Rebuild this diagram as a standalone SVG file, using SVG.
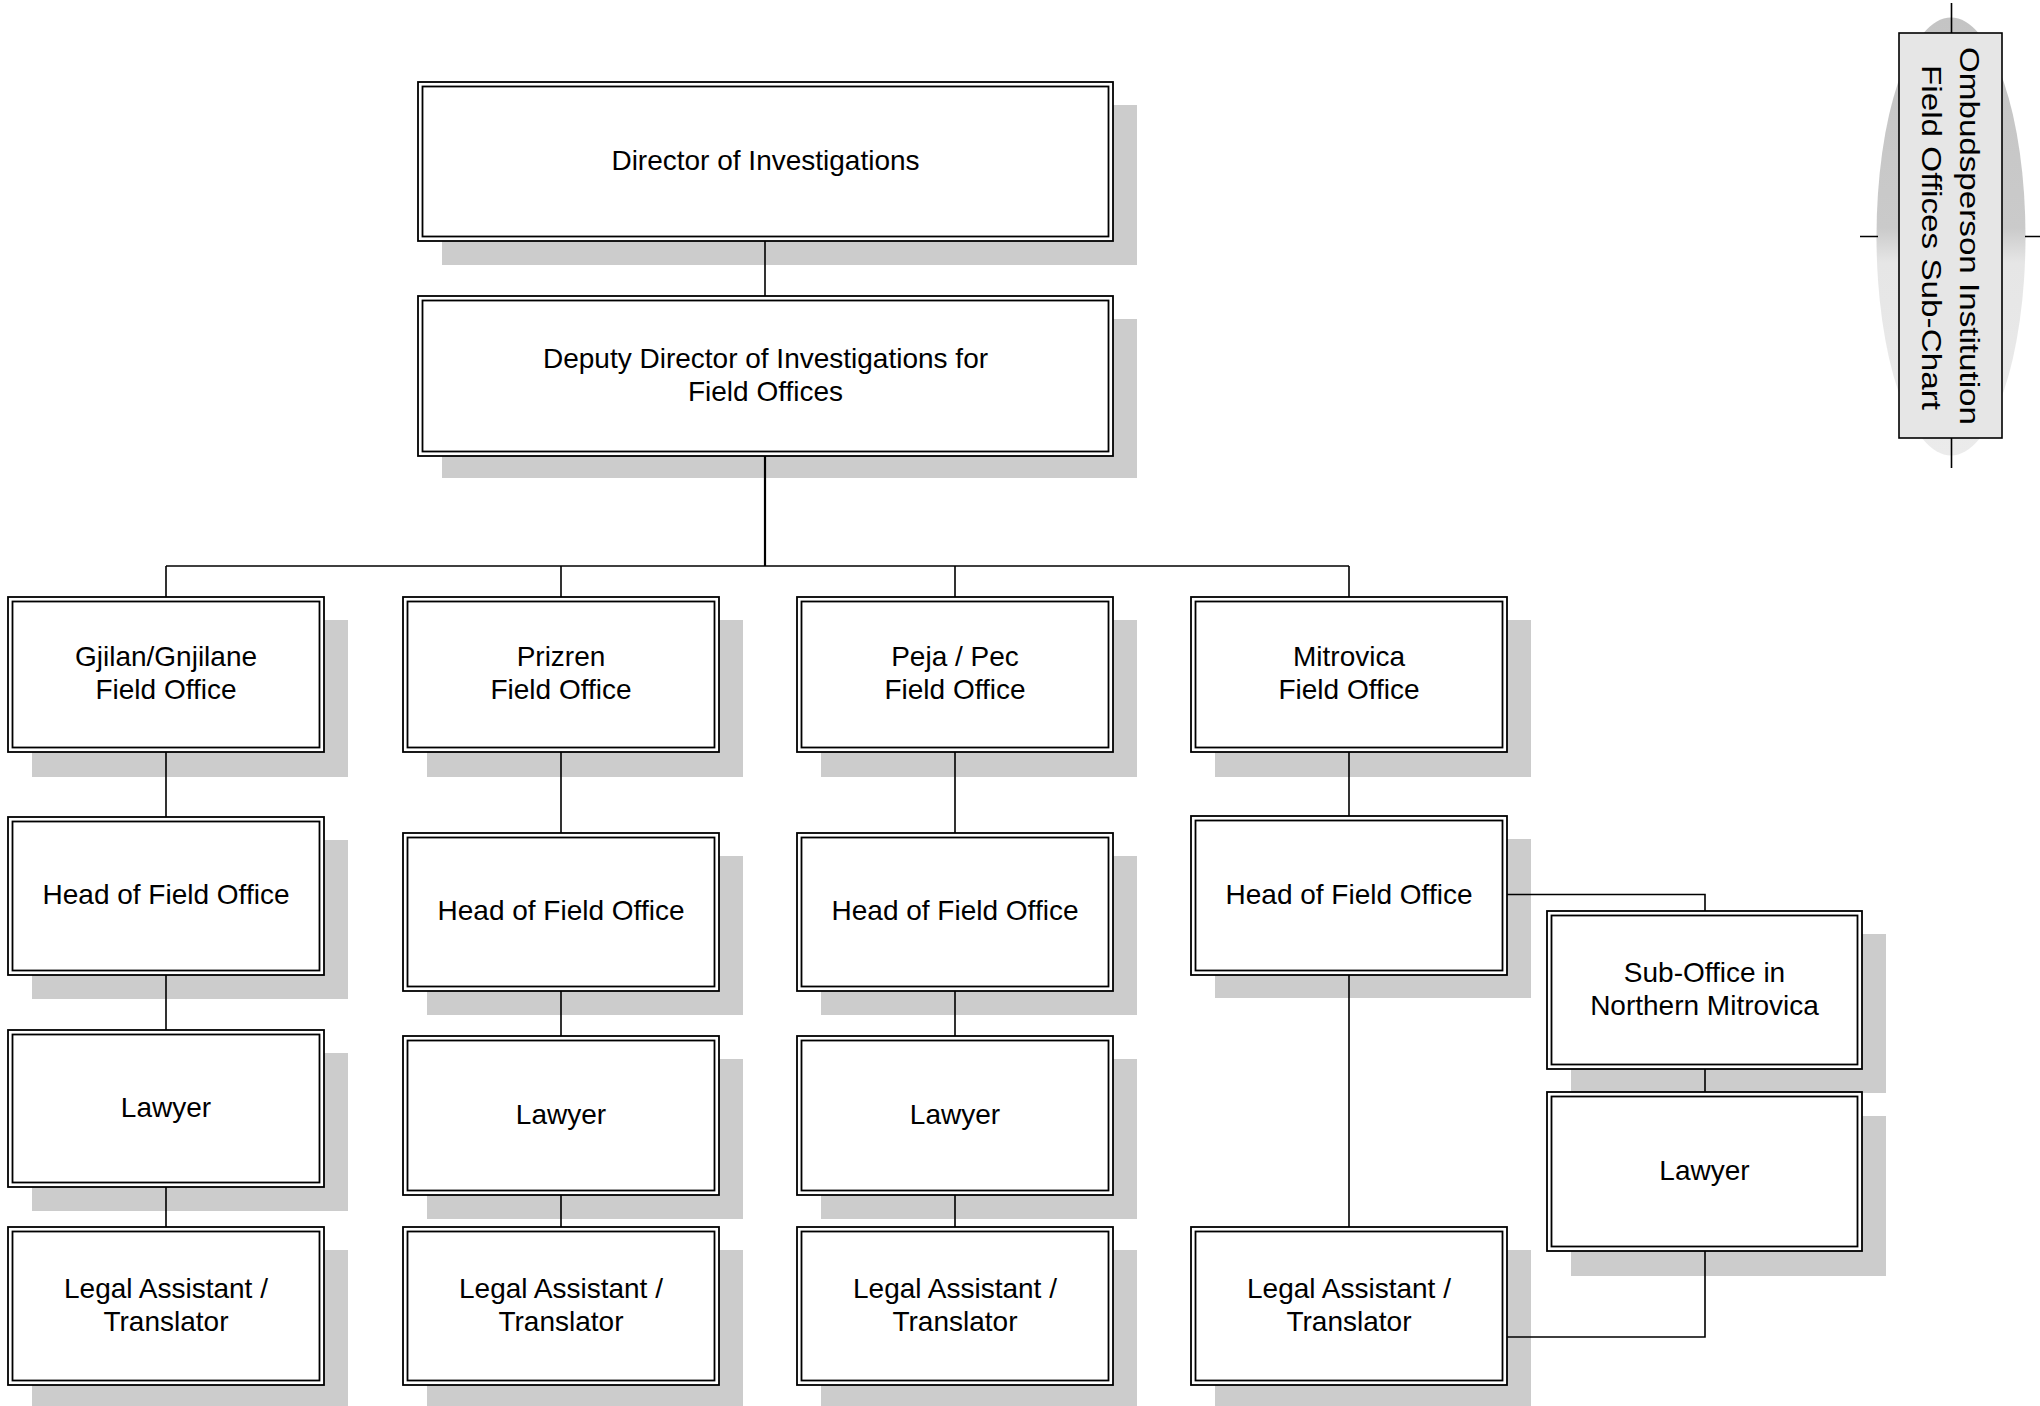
<svg xmlns="http://www.w3.org/2000/svg" width="2040" height="1406" viewBox="0 0 2040 1406">
<style>
.sh{fill:#cccccc}
.ob{fill:#ffffff;stroke:#000;stroke-width:1.8}
.ib{fill:none;stroke:#000;stroke-width:1.8}
.t{font-family:"Liberation Sans",Arial,sans-serif;font-size:28px;text-anchor:middle;fill:#000}
.c{fill:none;stroke:#000;stroke-width:1.6}
</style>
<defs>
<linearGradient id="lens" x1="0" y1="0" x2="0" y2="1">
<stop offset="0" stop-color="#c4c4c4"/>
<stop offset="0.48" stop-color="#cacaca"/>
<stop offset="0.56" stop-color="#e6e6e6"/>
<stop offset="1" stop-color="#ebebeb"/>
</linearGradient>
</defs>
<rect width="2040" height="1406" fill="#ffffff"/>

<g id="title">
<ellipse cx="1951" cy="236.5" rx="74.5" ry="219" fill="url(#lens)"/>
<path class="c" d="M1951.5,3V33M1951.5,438V468M1860,236.5H1878M2025,236.5H2040"/>
<rect x="1899" y="33" width="103" height="405" fill="#e6e6e6" stroke="#000" stroke-width="1.6"/>
<text class="t" font-size="27" transform="translate(1960,236) rotate(90)" textLength="378" lengthAdjust="spacingAndGlyphs" style="font-size:27px">Ombudsperson Institution</text>
<text class="t" transform="translate(1922,237.5) rotate(90)" textLength="345" lengthAdjust="spacingAndGlyphs" style="font-size:27px">Field Offices Sub-Chart</text>
</g>

<g id="director">
<rect class="sh" x="442" y="105" width="695" height="160"/>
<rect class="ob" x="418" y="82" width="695" height="159"/>
<rect class="ib" x="422.5" y="86.5" width="686" height="150"/>
<text class="t" x="765.5" y="169.5">Director of Investigations</text>
</g>

<g id="deputy">
<rect class="sh" x="442" y="319" width="695" height="159"/>
<rect class="ob" x="418" y="296" width="695" height="160"/>
<rect class="ib" x="422.5" y="300.5" width="686" height="151"/>
<text class="t" x="765.5" y="367.5">Deputy Director of Investigations for</text>
<text class="t" x="765.5" y="400.5">Field Offices</text>
</g>

<g id="fo-gjilan">
<rect class="sh" x="32" y="620" width="316" height="157"/>
<rect class="ob" x="8" y="597" width="316" height="155"/>
<rect class="ib" x="12.5" y="601.5" width="307" height="146"/>
<text class="t" x="166" y="666">Gjilan/Gnjilane</text>
<text class="t" x="166" y="699">Field Office</text>
</g>
<g id="fo-prizren">
<rect class="sh" x="427" y="620" width="316" height="157"/>
<rect class="ob" x="403" y="597" width="316" height="155"/>
<rect class="ib" x="407.5" y="601.5" width="307" height="146"/>
<text class="t" x="561" y="666">Prizren</text>
<text class="t" x="561" y="699">Field Office</text>
</g>
<g id="fo-peja">
<rect class="sh" x="821" y="620" width="316" height="157"/>
<rect class="ob" x="797" y="597" width="316" height="155"/>
<rect class="ib" x="801.5" y="601.5" width="307" height="146"/>
<text class="t" x="955" y="666">Peja / Pec</text>
<text class="t" x="955" y="699">Field Office</text>
</g>
<g id="fo-mitrovica">
<rect class="sh" x="1215" y="620" width="316" height="157"/>
<rect class="ob" x="1191" y="597" width="316" height="155"/>
<rect class="ib" x="1195.5" y="601.5" width="307" height="146"/>
<text class="t" x="1349" y="666">Mitrovica</text>
<text class="t" x="1349" y="699">Field Office</text>
</g>

<g id="head-gjilan">
<rect class="sh" x="32" y="840" width="316" height="159"/>
<rect class="ob" x="8" y="817" width="316" height="158"/>
<rect class="ib" x="12.5" y="821.5" width="307" height="149"/>
<text class="t" x="166" y="904">Head of Field Office</text>
</g>
<g id="head-prizren">
<rect class="sh" x="427" y="856" width="316" height="159"/>
<rect class="ob" x="403" y="833" width="316" height="158"/>
<rect class="ib" x="407.5" y="837.5" width="307" height="149"/>
<text class="t" x="561" y="920">Head of Field Office</text>
</g>
<g id="head-peja">
<rect class="sh" x="821" y="856" width="316" height="159"/>
<rect class="ob" x="797" y="833" width="316" height="158"/>
<rect class="ib" x="801.5" y="837.5" width="307" height="149"/>
<text class="t" x="955" y="920">Head of Field Office</text>
</g>
<g id="head-mitrovica">
<rect class="sh" x="1215" y="839" width="316" height="159"/>
<rect class="ob" x="1191" y="816" width="316" height="159"/>
<rect class="ib" x="1195.5" y="820.5" width="307" height="150"/>
<text class="t" x="1349" y="903.5">Head of Field Office</text>
</g>

<g id="lawyer-gjilan">
<rect class="sh" x="32" y="1053" width="316" height="158"/>
<rect class="ob" x="8" y="1030" width="316" height="157"/>
<rect class="ib" x="12.5" y="1034.5" width="307" height="148"/>
<text class="t" x="166" y="1116.5">Lawyer</text>
</g>
<g id="lawyer-prizren">
<rect class="sh" x="427" y="1059" width="316" height="160"/>
<rect class="ob" x="403" y="1036" width="316" height="159"/>
<rect class="ib" x="407.5" y="1040.5" width="307" height="150"/>
<text class="t" x="561" y="1123.5">Lawyer</text>
</g>
<g id="lawyer-peja">
<rect class="sh" x="821" y="1059" width="316" height="160"/>
<rect class="ob" x="797" y="1036" width="316" height="159"/>
<rect class="ib" x="801.5" y="1040.5" width="307" height="150"/>
<text class="t" x="955" y="1123.5">Lawyer</text>
</g>

<g id="legal-gjilan">
<rect class="sh" x="32" y="1250" width="316" height="159"/>
<rect class="ob" x="8" y="1227" width="316" height="158"/>
<rect class="ib" x="12.5" y="1231.5" width="307" height="149"/>
<text class="t" x="166" y="1297.5">Legal Assistant /</text>
<text class="t" x="166" y="1330.5">Translator</text>
</g>
<g id="legal-prizren">
<rect class="sh" x="427" y="1250" width="316" height="159"/>
<rect class="ob" x="403" y="1227" width="316" height="158"/>
<rect class="ib" x="407.5" y="1231.5" width="307" height="149"/>
<text class="t" x="561" y="1297.5">Legal Assistant /</text>
<text class="t" x="561" y="1330.5">Translator</text>
</g>
<g id="legal-peja">
<rect class="sh" x="821" y="1250" width="316" height="159"/>
<rect class="ob" x="797" y="1227" width="316" height="158"/>
<rect class="ib" x="801.5" y="1231.5" width="307" height="149"/>
<text class="t" x="955" y="1297.5">Legal Assistant /</text>
<text class="t" x="955" y="1330.5">Translator</text>
</g>
<g id="legal-mitrovica">
<rect class="sh" x="1215" y="1250" width="316" height="159"/>
<rect class="ob" x="1191" y="1227" width="316" height="158"/>
<rect class="ib" x="1195.5" y="1231.5" width="307" height="149"/>
<text class="t" x="1349" y="1297.5">Legal Assistant /</text>
<text class="t" x="1349" y="1330.5">Translator</text>
</g>

<g id="sub-office">
<rect class="sh" x="1571" y="934" width="315" height="159"/>
<rect class="ob" x="1547" y="911" width="315" height="158"/>
<rect class="ib" x="1551.5" y="915.5" width="306" height="149"/>
<text class="t" x="1704.5" y="981.5">Sub-Office in</text>
<text class="t" x="1704.5" y="1014.5">Northern Mitrovica</text>
</g>
<g id="lawyer-sub">
<rect class="sh" x="1571" y="1116" width="315" height="160"/>
<rect class="ob" x="1547" y="1092" width="315" height="159"/>
<rect class="ib" x="1551.5" y="1096.5" width="306" height="150"/>
<text class="t" x="1704.5" y="1179.5">Lawyer</text>
</g>

<g id="connectors">
<path class="c" d="M765,241V296"/>
<path class="c" style="stroke-width:2.2" d="M765,456V566"/>
<path class="c" d="M166,566H1349"/>
<path class="c" d="M166,566V597M561,566V597M955,566V597M1349,566V597"/>
<path class="c" d="M166,752V817M166,975V1030M166,1187V1227"/>
<path class="c" d="M561,752V833M561,991V1036M561,1195V1227"/>
<path class="c" d="M955,752V833M955,991V1036M955,1195V1227"/>
<path class="c" d="M1349,752V816M1349,975V1227"/>
<path class="c" d="M1507,894.5H1705V911"/>
<path class="c" d="M1705,1069V1092"/>
<path class="c" d="M1705,1251V1337H1507"/>
</g>
</svg>
